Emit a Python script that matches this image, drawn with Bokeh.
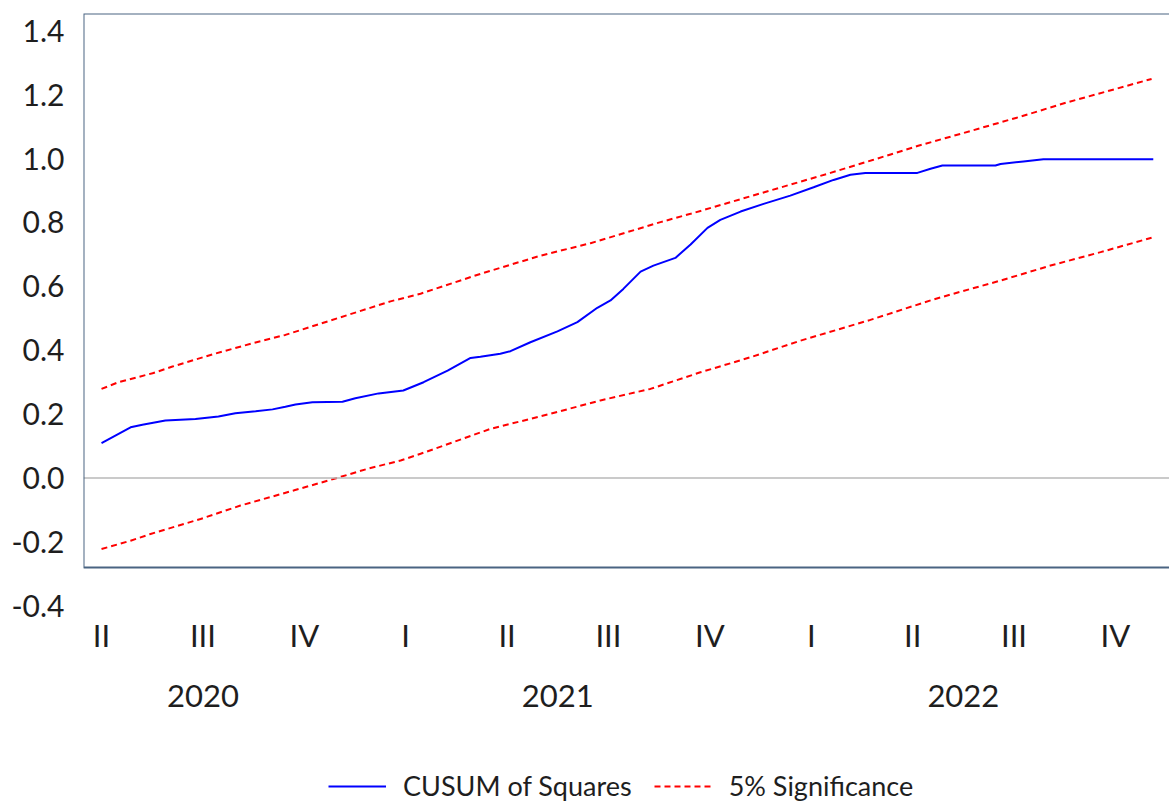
from bokeh.plotting import figure
from bokeh.layouts import column
from bokeh.models import (Range1d, LinearAxis, FixedTicker, NumeralTickFormatter,
                          Span, BoxAnnotation, Legend, LegendItem)
from bokeh.embed import file_html
from bokeh.resources import INLINE

# ---- data (x in months since April 2020) ----
quarter_ticks = [0, 3, 6, 9, 12, 15, 18, 21, 24, 27, 30]
quarter_labels = ["II", "III", "IV", "I", "II", "III", "IV", "I", "II", "III", "IV"]
year_ticks = [3, 13.5, 25.5]
year_labels = ["2020", "2021", "2022"]
y_ticks = [-0.4, -0.2, 0.0, 0.2, 0.4, 0.6, 0.8, 1.0, 1.2, 1.4]

cusum_t = [0.0, 0.86, 1.21, 1.89, 2.78, 3.46, 3.96, 4.56, 5.06, 5.44, 5.74, 6.24,
           7.13, 7.51, 8.20, 8.93, 9.53, 10.24, 10.92, 11.21, 11.80, 12.10, 12.69,
           13.49, 14.08, 14.67, 15.06, 15.44, 15.95, 16.33, 16.98, 17.43, 17.93,
           18.31, 18.91, 19.59, 20.38, 21.07, 21.66, 22.16, 22.60, 24.14, 24.53,
           24.88, 26.45, 26.60, 27.28, 27.87, 31.12]
cusum_vals = [0.109, 0.159, 0.167, 0.180, 0.185, 0.193, 0.203, 0.209, 0.215, 0.223,
              0.230, 0.237, 0.239, 0.250, 0.265, 0.274, 0.300, 0.336, 0.376, 0.380,
              0.389, 0.397, 0.425, 0.459, 0.488, 0.533, 0.556, 0.592, 0.646, 0.665,
              0.689, 0.731, 0.783, 0.808, 0.834, 0.858, 0.884, 0.910, 0.933, 0.949,
              0.955, 0.955, 0.968, 0.978, 0.978, 0.983, 0.991, 0.998, 0.998]

upper_t = [0.0, 0.50, 1.51, 2.10, 3.28, 4.47, 5.44, 8.55, 9.44, 11.21, 12.99, 14.47,
           16.54, 17.43, 19.79, 21.57, 22.84, 24.14, 25.41, 27.19, 28.58, 29.47, 31.07]
upper_vals = [0.279, 0.300, 0.328, 0.349, 0.387, 0.422, 0.448, 0.553, 0.577, 0.639,
              0.696, 0.735, 0.801, 0.827, 0.900, 0.955, 0.996, 1.039, 1.077, 1.131,
              1.176, 1.202, 1.249]

lower_t = [0.0, 0.86, 1.45, 2.93, 4.11, 5.68, 6.86, 7.87, 8.85, 9.44, 11.51, 13.28,
           14.76, 16.24, 17.72, 19.20, 20.68, 22.75, 24.62, 25.21, 26.60, 28.08,
           29.56, 31.07]
lower_vals = [-0.222, -0.196, -0.175, -0.128, -0.086, -0.039, -0.003, 0.029, 0.055,
              0.076, 0.154, 0.201, 0.243, 0.279, 0.331, 0.378, 0.430, 0.495, 0.559,
              0.577, 0.618, 0.665, 0.707, 0.752]

FONT = "Lato"
TXT = "#1e1e1e"
BLUE = "#0000ff"
RED = "#ff0000"
X0, X1 = -0.533, 31.6
Y0, Y1 = -0.405, 1.4538

p = figure(width=1169, height=745, output_backend="svg", toolbar_location=None,
           x_range=Range1d(X0, X1), y_range=Range1d(Y0, Y1),
           x_axis_location=None, y_axis_location=None,
           min_border_left=83, min_border_right=0, min_border_top=13,
           min_border_bottom=138)
p.outline_line_color = None
p.xgrid.visible = False
p.ygrid.visible = False
p.background_fill_color = "white"
p.border_fill_color = "white"

# y axis
yax = LinearAxis(ticker=FixedTicker(ticks=y_ticks),
                 formatter=NumeralTickFormatter(format="0.0"))
yax.axis_line_color = None
yax.major_tick_line_color = None
yax.minor_tick_line_color = None
yax.major_label_text_font = FONT
yax.major_label_text_font_size = "30px"
yax.major_label_text_color = TXT
yax.major_label_standoff = 13
p.add_layout(yax, "left")

# x axis: quarters
xq = LinearAxis(ticker=FixedTicker(ticks=quarter_ticks),
                major_label_overrides={t: l for t, l in zip(quarter_ticks, quarter_labels)})
xq.axis_line_color = None
xq.major_tick_line_color = None
xq.minor_tick_line_color = None
xq.major_label_text_font = FONT
xq.major_label_text_font_size = "31px"
xq.major_label_text_color = TXT
xq.major_label_standoff = 2
p.add_layout(xq, "below")

# x axis: years
xy = LinearAxis(ticker=FixedTicker(ticks=year_ticks),
                major_label_overrides={t: l for t, l in zip(year_ticks, year_labels)})
xy.axis_line_color = None
xy.major_tick_line_color = None
xy.minor_tick_line_color = None
xy.major_label_text_font = FONT
xy.major_label_text_font_size = "31px"
xy.major_label_text_color = TXT
xy.major_label_standoff = 22
p.add_layout(xy, "below")

# frame box and zero line
p.add_layout(Span(location=0, dimension="width", line_color="#b8b8b8", line_width=1.5))
p.add_layout(BoxAnnotation(bottom=-0.28, top=Y1, left=X0, right=X1 + 1,
                           fill_color=None, fill_alpha=0,
                           line_color="#4a6482", line_alpha=1.0, line_width=2))

r_up = p.line(upper_t, upper_vals, line_color=RED, line_width=2, line_dash="6 4")
r_lo = p.line(lower_t, lower_vals, line_color=RED, line_width=2, line_dash="6 4")
r_cu = p.line(cusum_t, cusum_vals, line_color=BLUE, line_width=2)

# legend strip below the chart (its frame is aligned with the chart's frame)
pl = figure(width=1169, height=57, output_backend="svg", toolbar_location=None,
            x_range=Range1d(0, 1), y_range=Range1d(0, 1),
            x_axis_location=None, y_axis_location=None,
            min_border=0)
pl.outline_line_color = None
pl.xgrid.visible = False
pl.ygrid.visible = False
lg_cu = pl.line([-2, -1], [-2, -2], line_color=BLUE, line_width=2)
lg_sig = pl.line([-2, -1], [-2, -2], line_color=RED, line_width=2, line_dash="6 4")

legend = Legend(items=[LegendItem(label="CUSUM of Squares", renderers=[lg_cu]),
                       LegendItem(label="5% Significance", renderers=[lg_sig])],
                orientation="horizontal", location=(245, 0),
                border_line_color=None, background_fill_alpha=0,
                glyph_width=58, glyph_height=20, label_standoff=17, spacing=22,
                padding=0, margin=0,
                label_text_font=FONT, label_text_font_size="27px",
                label_text_color=TXT)
pl.add_layout(legend, "center")

layout = column(p, pl, spacing=0)
open("out.html", "w").write(file_html(layout, INLINE))
